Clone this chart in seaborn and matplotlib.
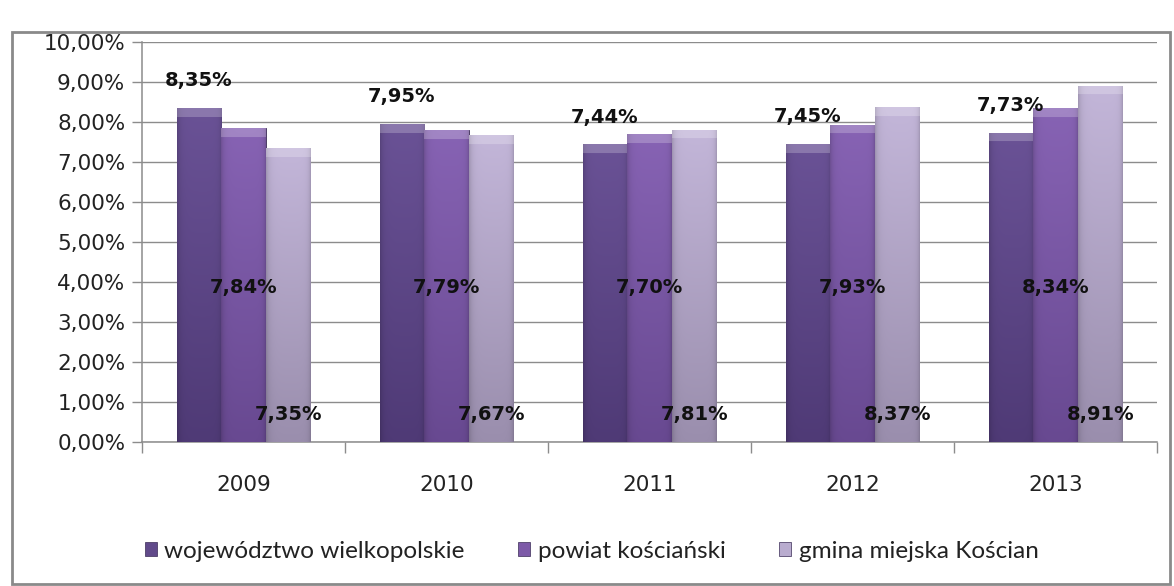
import matplotlib
matplotlib.use("Agg")
import matplotlib.pyplot as plt
from matplotlib.patches import Rectangle, Patch
from matplotlib.colors import to_rgb
import numpy as np
import pandas as pd
import seaborn as sns

years = ["2009", "2010", "2011", "2012", "2013"]
series = ["województwo wielkopolskie", "powiat kościański", "gmina miejska Kościan"]
woj = [8.35, 7.95, 7.44, 7.45, 7.73]
powiat = [7.84, 7.79, 7.70, 7.93, 8.34]
gmina = [7.35, 7.67, 7.81, 8.37, 8.91]

colors = ["#614a8a", "#7d5aa8", "#b9accf"]
tops = ["#6a5296", "#8763b4", "#c3b6d9"]
bottoms = ["#4f3a76", "#684991", "#9a8ead"]

df = pd.DataFrame({
    "rok": years * 3,
    "seria": [s for s in series for _ in years],
    "wartosc": woj + powiat + gmina,
})

sns.set_style("white")
plt.rcParams["font.family"] = ["DejaVu Sans"]

fig = plt.figure(figsize=(11.74, 5.86), dpi=100)
ax = fig.add_axes([142 / 1174, 1 - 442 / 586, (1157 - 142) / 1174, 400 / 586])

sns.barplot(data=df, x="rok", y="wartosc", hue="seria", palette=colors,
            width=0.66, ax=ax, legend=False, edgecolor="#3a2b55", linewidth=0.6,
            zorder=3)


def bar_image(h, i, ncols=45):
    # vertical gradient + darker sides + light bevel on top
    rows = max(int(h * 40), 2)
    t = np.linspace(0, 1, rows)[:, None]
    b, tp = np.array(to_rgb(bottoms[i])), np.array(to_rgb(tops[i]))
    img = b + (tp - b) * t[..., None]
    img = np.repeat(img, ncols, axis=1)
    s = np.linspace(0, 1, ncols)
    side = 1 - 0.16 * np.exp(-s / 0.07) - 0.14 * np.exp(-(1 - s) / 0.05)
    img = img * side[None, :, None]
    cap = np.arange(rows)[::-1] < 9
    img[cap] = img[cap] * 0.78 + 0.22
    return np.clip(img, 0, 1)


for i, cont in enumerate(ax.containers):
    for bar in cont:
        x0, w, h = bar.get_x(), bar.get_width(), bar.get_height()
        im = ax.imshow(bar_image(h, i), extent=[x0, x0 + w, 0, h], origin="lower",
                       aspect="auto", zorder=3.5, interpolation="bilinear")
        im.set_clip_path(bar)

# data labels (placed like in the original)
label_font = dict(fontsize=14, fontweight="bold", ha="center", va="center",
                  color="#111111", zorder=5)
for j, cont in enumerate(ax.containers):
    vals = [woj, powiat, gmina][j]
    for bar, v in zip(cont, vals):
        cx = bar.get_x() + bar.get_width() / 2
        if j == 0:
            y = v + 0.68
        elif j == 1:
            y = 3.85
        else:
            y = 0.68
        ax.text(cx, y, f"{v:.2f}%".replace(".", ","), **label_font)

ax.set_xlim(-0.5, 4.5)
ax.set_ylim(0, 10)
ax.set_yticks(np.arange(0, 11, 1))
ax.set_yticklabels([f"{v:.2f}%".replace(".", ",") for v in np.arange(0, 11, 1)])
ax.yaxis.grid(True, color="#8c8c8c", linewidth=1.0, zorder=0)
ax.set_axisbelow(True)
ax.set_xlabel("")
ax.set_ylabel("")

ax.set_xticks(range(5))
ax.set_xticklabels(years)
ax.set_xticks(np.arange(-0.5, 5, 1), minor=True)
ax.tick_params(axis="x", which="major", length=0, labelsize=15.5, pad=24, colors="#222222")
ax.tick_params(axis="x", which="minor", length=8, width=1, color="#8c8c8c", direction="out",
               bottom=True)
ax.tick_params(axis="y", length=7, width=1, color="#8c8c8c", labelsize=15.5, direction="out",
               pad=5, labelcolor="#222222", left=True)

for side in ["top", "right"]:
    ax.spines[side].set_visible(False)
for side in ["left", "bottom"]:
    ax.spines[side].set_color("#8c8c8c")
    ax.spines[side].set_linewidth(1.1)

handles = [Patch(facecolor=c, edgecolor="#3a2b55", linewidth=0.5) for c in colors]
fig.legend(handles, series, loc="center", bbox_to_anchor=(0.504, 1 - 551 / 586), ncol=3,
           frameon=False, prop={"family": "Lato", "size": 17.5}, handlelength=0.5,
           handleheight=0.5, handletextpad=0.3, columnspacing=2.2,
           labelcolor="#222222")

fig.patches.append(Rectangle((12 / 1174, 2 / 586), 1158 / 1174, 552 / 586,
                             transform=fig.transFigure, fill=False,
                             edgecolor="#8a8a8a", linewidth=2))

fig.savefig("out.png", dpi=100)
